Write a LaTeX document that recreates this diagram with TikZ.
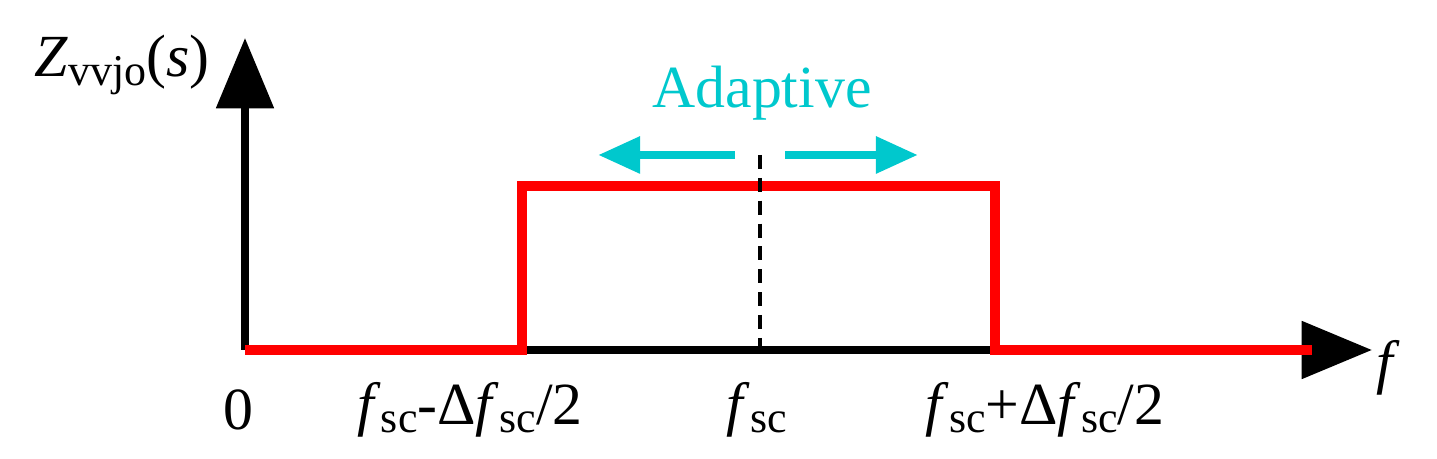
\documentclass[tikz,border=0pt]{standalone}
\usepackage{fontspec}
\setmainfont{Liberation Serif}
\usetikzlibrary{arrows.meta}
\definecolor{cy}{RGB}{0,200,205}
\newcommand{\sub}[1]{\raisebox{-0.3ex}{\fontsize{12.5}{14}\selectfont #1}}
\newcommand{\fsc}{\textit{f}\sub{sc}}
\begin{document}
\begin{tikzpicture}[x=0.01cm,y=-0.01cm,
  lbl/.style={font=\fontsize{17}{20}\selectfont, inner sep=0pt},
  ax/.style={line width=2.2pt,-{Triangle[length=20pt,width=16pt]}},
  red/.style={draw=red,line width=3pt}]
\useasboundingbox (0,0) rectangle (1437,459);
\coordinate (o) at (245,350);
\coordinate (ytop) at (245,38);
\coordinate (xend) at (1372,350);
\draw[ax] (o) -- (xend);
\draw[ax] (o) -- (ytop);
\coordinate (a) at (522,350); \coordinate (b) at (522,186);
\coordinate (c) at (995,186); \coordinate (d) at (995,350);
\coordinate (e) at (1312,350);
\draw[red] (o) -- (a) -- (b) -- (c) -- (d) -- (e);
\coordinate (dt) at (760,155); \coordinate (db) at (760,350);
\draw[line width=1.3pt,dash pattern=on 4pt off 2.5pt] (dt) -- (db);
\coordinate (l1) at (735,155); \coordinate (l2) at (598,155);
\coordinate (r1) at (785,155); \coordinate (r2) at (918,155);
\draw[cy,line width=2.5pt,-{Triangle[length=12pt,width=10pt]}] (l1) -- (l2);
\draw[cy,line width=2.5pt,-{Triangle[length=12pt,width=10pt]}] (r1) -- (r2);
\node[lbl,text=cy] (ad) at (762,93) {Adaptive};
\node[lbl] (z) at (122,65) {\textit{Z}\sub{vvjo}(\textit{s})};
\node[lbl] (f) at (1388,368) {\textit{f}};
\node[lbl] (n0) at (238,410) {0};
\node[lbl] (f1) at (470,410) {\fsc-Δ\fsc/2};
\node[lbl] (f2) at (757,410) {\fsc};
\node[lbl] (f3) at (1045,410) {\fsc+Δ\fsc/2};
\end{tikzpicture}
\end{document}
